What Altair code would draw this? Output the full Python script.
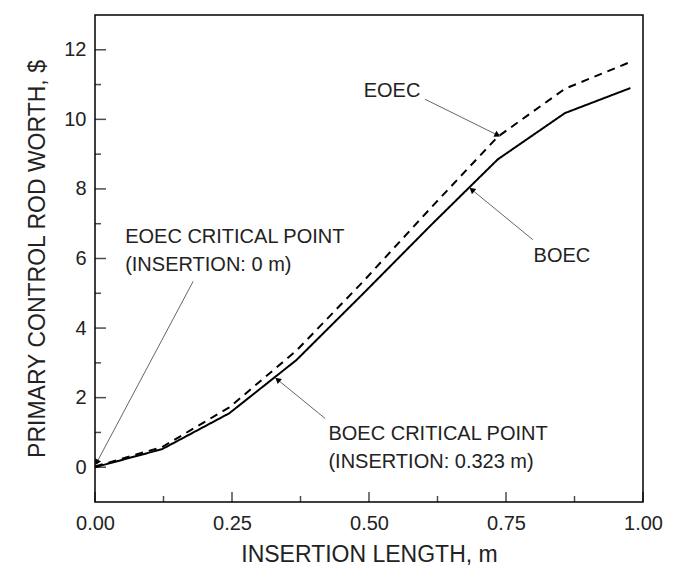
import math
import altair as alt
import pandas as pd

# ---------------- data ----------------
insertion = [0.0, 0.1225, 0.245, 0.3675, 0.49, 0.6125, 0.735, 0.8575, 0.977]
boec_worth = [0.0, 0.52, 1.55, 3.08, 5.0, 6.95, 8.85, 10.18, 10.9]
eoec_worth = [0.02, 0.58, 1.72, 3.35, 5.35, 7.45, 9.5, 10.88, 11.65]

x_major = [0.0, 0.25, 0.5, 0.75, 1.0]
x_minor = [0.125, 0.375, 0.625, 0.875]
y_major = [0, 2, 4, 6, 8, 10, 12]
y_minor = [1, 3, 5, 7, 9, 11]

# annotations (data coordinates)
label_text = ["EOEC", "BOEC", "EOEC CRITICAL POINT", "(INSERTION: 0 m)",
              "BOEC CRITICAL POINT", "(INSERTION: 0.323 m)"]
label_x = [0.542, 0.852, 0.055, 0.055, 0.426, 0.426]
label_y = [10.82, 6.08, 6.62, 5.80, 0.96, 0.16]
label_align = ["center", "center", "left", "left", "left", "left"]

arrow_x_tail = [0.602, 0.799, 0.179, 0.420]
arrow_y_tail = [10.58, 6.54, 5.34, 1.40]
arrow_x_tip = [0.733, 0.689, 0.004, 0.3345]
arrow_y_tip = [9.56, 7.96, 0.16, 2.50]

W, H = 548, 487
X_DOM = [0, 1.0]
Y_DOM = [-1, 13]
FONT = "Liberation Sans"

xs = alt.Scale(domain=X_DOM, nice=False, zero=False)
ys = alt.Scale(domain=Y_DOM, nice=False, zero=False)
px_x = W / (X_DOM[1] - X_DOM[0])
px_y = H / (Y_DOM[1] - Y_DOM[0])

curves = pd.DataFrame({
    "x": insertion * 2,
    "y": boec_worth + eoec_worth,
    "series": ["BOEC"] * len(insertion) + ["EOEC"] * len(insertion),
})

base_line = alt.Chart(curves).mark_line(color="black", strokeWidth=2).encode(
    x=alt.X("x:Q", scale=xs,
            axis=alt.Axis(values=x_major, format=".2f", tickSize=0, domain=False,
                          grid=False, labelFlush=False, labelOverlap=False,
                          labelFontSize=20, labelFont=FONT,
                          labelColor="#222", labelPadding=11,
                          title="INSERTION LENGTH, m", titleFont=FONT,
                          titleFontSize=23, titleFontWeight="normal",
                          titleColor="#222", titlePadding=10)),
    y=alt.Y("y:Q", scale=ys,
            axis=alt.Axis(values=y_major, tickSize=0, domain=False, grid=False,
                          labelFlush=False, labelOverlap=False,
                          labelFontSize=20, labelFont=FONT, labelColor="#222",
                          labelPadding=9,
                          title="PRIMARY CONTROL ROD WORTH, $", titleFont=FONT,
                          titleFontSize=23, titleFontWeight="normal",
                          titleColor="#222", titlePadding=14)),
    strokeDash=alt.StrokeDash("series:N", scale=alt.Scale(domain=["BOEC", "EOEC"],
                                                           range=[[1, 0], [8, 6]]),
                              legend=None),
    detail="series:N",
)

# inward ticks as tick marks shifted inside the frame
xt_major = pd.DataFrame({"v": x_major, "b": [Y_DOM[0]] * len(x_major)})
xt_minor = pd.DataFrame({"v": x_minor, "b": [Y_DOM[0]] * len(x_minor)})
yt_major = pd.DataFrame({"v": y_major, "b": [X_DOM[0]] * len(y_major)})
yt_minor = pd.DataFrame({"v": y_minor, "b": [X_DOM[0]] * len(y_minor)})

xtick_major = alt.Chart(xt_major).mark_tick(
    color="black", orient="vertical", size=10, thickness=1.5, yOffset=-5).encode(
    x=alt.X("v:Q", scale=xs), y=alt.Y("b:Q", scale=ys))
xtick_minor = alt.Chart(xt_minor).mark_tick(
    color="black", orient="vertical", size=6, thickness=1.5, yOffset=-3).encode(
    x=alt.X("v:Q", scale=xs), y=alt.Y("b:Q", scale=ys))
ytick_major = alt.Chart(yt_major).mark_tick(
    color="black", orient="horizontal", size=11, thickness=1.5, xOffset=5.5).encode(
    y=alt.Y("v:Q", scale=ys), x=alt.X("b:Q", scale=xs))
ytick_minor = alt.Chart(yt_minor).mark_tick(
    color="black", orient="horizontal", size=6, thickness=1.5, xOffset=3).encode(
    y=alt.Y("v:Q", scale=ys), x=alt.X("b:Q", scale=xs))

# annotation text
labels = pd.DataFrame({"x": label_x, "y": label_y, "t": label_text, "a": label_align})
text_center = alt.Chart(labels).transform_filter("datum.a == 'center'").mark_text(
    font=FONT, fontSize=20, color="#222", align="center", baseline="middle").encode(
    x=alt.X("x:Q", scale=xs), y=alt.Y("y:Q", scale=ys), text="t:N")
text_left = alt.Chart(labels).transform_filter("datum.a == 'left'").mark_text(
    font=FONT, fontSize=20, color="#222", align="left", baseline="middle").encode(
    x=alt.X("x:Q", scale=xs), y=alt.Y("y:Q", scale=ys), text="t:N")

# arrows
angles = []
for xa, ya, xb, yb in zip(arrow_x_tail, arrow_y_tail, arrow_x_tip, arrow_y_tip):
    dx = (xb - xa) * px_x
    dy = -(yb - ya) * px_y
    angles.append(math.degrees(math.atan2(dx, -dy)) % 360)

arrows = pd.DataFrame({"x": arrow_x_tail, "y": arrow_y_tail,
                       "x2": arrow_x_tip, "y2": arrow_y_tip, "ang": angles})
arrow_lines = alt.Chart(arrows).mark_rule(color="#666", strokeWidth=1).encode(
    x=alt.X("x:Q", scale=xs), y=alt.Y("y:Q", scale=ys), x2="x2:Q", y2="y2:Q")
arrow_heads = alt.Chart(arrows).mark_point(
    shape="triangle", filled=True, color="black", size=45, opacity=1).encode(
    x=alt.X("x2:Q", scale=xs), y=alt.Y("y2:Q", scale=ys),
    angle=alt.Angle("ang:Q", scale=None))

chart = alt.layer(
    base_line, xtick_major, xtick_minor, ytick_major, ytick_minor,
    arrow_lines, arrow_heads, text_center, text_left,
).properties(
    width=W, height=H,
    autosize=alt.AutoSizeParams(type="none"),
    padding={"left": 95, "top": 15, "right": 48, "bottom": 84},
    background="white",
).configure_view(stroke="black", strokeWidth=1.5)

chart.save("out.html", embed_options={"renderer": "svg", "actions": False})
